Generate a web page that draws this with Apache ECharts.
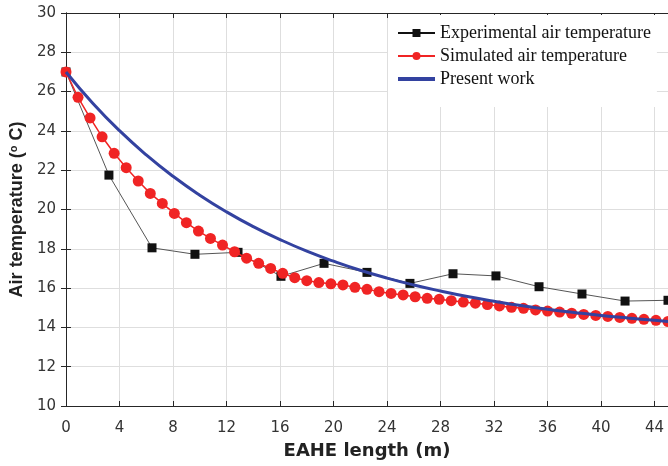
<!DOCTYPE html>
<html>
<head>
<meta charset="utf-8">
<script src="https://cdn.jsdelivr.net/npm/echarts@6/dist/echarts.min.js"></script>
<style>html,body{margin:0;padding:0;background:#fff}#c{width:668px;height:466px}</style>
</head>
<body>
<div id="c"></div>
<script>
// Experimental air temperature (x in m, y in °C)
const expX = [0, 3.21, 6.43, 9.64, 12.86, 16.07, 19.29, 22.5, 25.71, 28.93, 32.14, 35.36, 38.57, 41.79, 45];
const expY = [27.0, 21.75, 18.05, 17.72, 17.82, 16.6, 17.26, 16.8, 16.24, 16.73, 16.62, 16.07, 15.7, 15.34, 15.38];

// Simulated air temperature
const simX = [0, 0.9, 1.8, 2.7, 3.6, 4.5, 5.4, 6.3, 7.2, 8.1, 9.0, 9.9, 10.8, 11.7, 12.6, 13.5, 14.4, 15.3, 16.2, 17.1,
  18.0, 18.9, 19.8, 20.7, 21.6, 22.5, 23.4, 24.3, 25.2, 26.1, 27.0, 27.9, 28.8, 29.7, 30.6, 31.5, 32.4, 33.3, 34.2, 35.1,
  36.0, 36.9, 37.8, 38.7, 39.6, 40.5, 41.4, 42.3, 43.2, 44.1, 45.0];
const simY = [27.0, 25.71, 24.66, 23.7, 22.86, 22.13, 21.45, 20.82, 20.31, 19.8, 19.33, 18.9, 18.53, 18.19, 17.85, 17.52, 17.26, 17.0, 16.75, 16.53,
  16.38, 16.28, 16.22, 16.16, 16.04, 15.94, 15.82, 15.73, 15.65, 15.56, 15.48, 15.43, 15.36, 15.29, 15.23, 15.16, 15.09, 15.02, 14.97, 14.89,
  14.83, 14.78, 14.72, 14.66, 14.61, 14.56, 14.51, 14.46, 14.41, 14.36, 14.3];

// Present work
const preX = [0, 2, 4, 6, 8, 10, 12, 14, 16, 18, 20, 22, 24, 26, 28, 30, 32, 34, 36, 38, 40, 42, 44, 45];
const preY = [27.0, 25.41, 24.01, 22.78, 21.69, 20.73, 19.88, 19.13, 18.47, 17.88, 17.37, 16.91, 16.51, 16.16, 15.85, 15.57, 15.33, 15.11, 14.92, 14.76, 14.61, 14.48, 14.36, 14.3];

const xTicks = {min: 0, max: 45, interval: 4};
const yTicks = {min: 10, max: 30, interval: 2};

const zip = (a, b) => a.map((v, i) => [v, b[i]]);

const axisColor = '#262626';
const sansFont = 'DejaVu Sans';

const chart = echarts.init(document.getElementById('c'), null, {renderer: 'canvas'});
chart.setOption({
  animation: false,
  backgroundColor: '#fff',
  grid: {left: 62, top: 13, width: 608, height: 393, show: false},
  legend: {
    orient: 'vertical',
    left: 388,
    top: 15,
    padding: [9, 6, 19, 8],
    backgroundColor: '#fff',
    itemWidth: 37,
    itemHeight: 10,
    itemGap: 5,
    selectedMode: false,
    textStyle: {fontFamily: 'Liberation Serif', fontSize: 18, color: '#111', lineHeight: 18},
    data: [
      {name: 'Experimental air temperature', lineStyle: {color: '#111'}},
      'Simulated air temperature',
      {name: 'Present work', itemStyle: {opacity: 0}, lineStyle: {width: 4}}
    ]
  },
  xAxis: [{
    type: 'value', min: xTicks.min, max: xTicks.max, interval: xTicks.interval,
    name: 'EAHE length (m)', nameLocation: 'middle', nameGap: 36,
    nameTextStyle: {fontFamily: sansFont, fontWeight: 'bold', fontSize: 18, color: '#222'},
    axisLine: {lineStyle: {color: axisColor, width: 1}},
    axisTick: {inside: true, length: 5, lineStyle: {color: axisColor}},
    axisLabel: {fontFamily: sansFont, fontSize: 15, color: '#333', margin: 15, showMaxLabel: false},
    splitLine: {show: true, lineStyle: {color: '#dedede', width: 1}}
  }, {
    type: 'value', position: 'top', min: xTicks.min, max: xTicks.max, interval: xTicks.interval,
    axisLine: {lineStyle: {color: axisColor, width: 1}},
    axisTick: {inside: true, length: 5, lineStyle: {color: axisColor}},
    axisLabel: {show: false},
    splitLine: {show: false}
  }],
  yAxis: [{
    type: 'value', min: yTicks.min, max: yTicks.max, interval: yTicks.interval,
    name: 'Air temperature ({s|o} C)', nameLocation: 'middle', nameGap: 31,
    nameTextStyle: {fontFamily: 'Liberation Sans', fontWeight: 'bold', fontSize: 18, color: '#222',
      rich: {s: {fontFamily: 'Liberation Sans', fontWeight: 'bold', fontSize: 11, color: '#222', verticalAlign: 'top', lineHeight: 12}}},
    axisLine: {lineStyle: {color: axisColor, width: 1}},
    axisTick: {inside: true, length: 5, lineStyle: {color: axisColor}},
    axisLabel: {fontFamily: sansFont, fontSize: 15, color: '#333', margin: 10},
    splitLine: {show: true, lineStyle: {color: '#dedede', width: 1}}
  }, {
    type: 'value', position: 'right', min: yTicks.min, max: yTicks.max, interval: yTicks.interval,
    axisLine: {show: true, lineStyle: {color: axisColor, width: 1}},
    axisTick: {show: true, inside: true, length: 5, lineStyle: {color: axisColor}},
    axisLabel: {show: false},
    splitLine: {show: false}
  }],
  series: [{
    name: 'Experimental air temperature',
    type: 'line',
    data: zip(expX, expY),
    symbol: 'rect', symbolSize: 9,
    itemStyle: {color: '#111'},
    lineStyle: {color: '#555', width: 1},
    z: 3
  }, {
    name: 'Simulated air temperature',
    type: 'line',
    data: zip(simX, simY),
    symbol: 'circle', symbolSize: 11,
    itemStyle: {color: '#f02424'},
    lineStyle: {color: '#f02424', width: 1.5},
    z: 4
  }, {
    name: 'Present work',
    type: 'line',
    data: zip(preX, preY),
    smooth: true,
    symbol: 'none',
    itemStyle: {color: '#3342a0'},
    lineStyle: {color: '#3342a0', width: 3},
    z: 5
  }]
});
</script>
</body>
</html>
